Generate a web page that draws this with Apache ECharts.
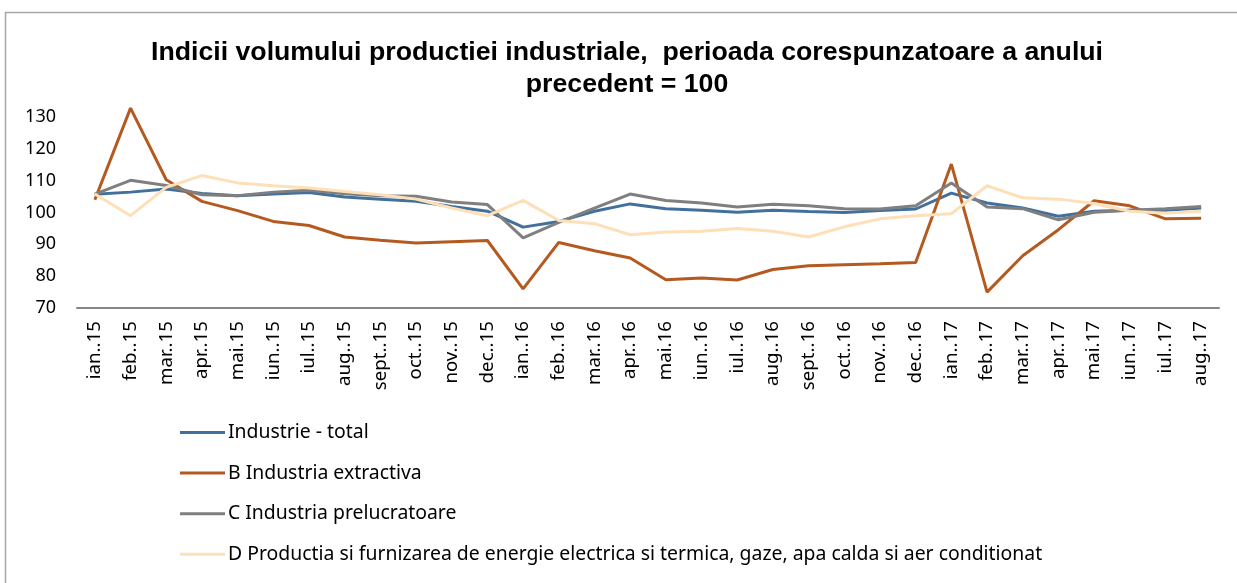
<!DOCTYPE html>
<html>
<head>
<meta charset="utf-8">
<script src="https://cdn.jsdelivr.net/npm/echarts@6/dist/echarts.min.js"></script>
<style>
html, body { margin: 0; padding: 0; background: #fff; }
#chart { width: 1237px; height: 583px; }
</style>
</head>
<body>
<div id="chart"></div>
<script>
var months = ['ian..15', 'feb..15', 'mar..15', 'apr..15', 'mai.15', 'iun..15', 'iul..15', 'aug..15', 'sept..15', 'oct..15', 'nov..15', 'dec..15',
    'ian..16', 'feb..16', 'mar..16', 'apr..16', 'mai.16', 'iun..16', 'iul..16', 'aug..16', 'sept..16', 'oct..16', 'nov..16', 'dec..16',
    'ian..17', 'feb..17', 'mar..17', 'apr..17', 'mai.17', 'iun..17', 'iul..17', 'aug..17'];

var industrieTotal = [105.7, 106.4, 107.4, 106.0, 105.3, 105.8, 106.3, 104.9, 104.2, 103.5, 101.9, 100.4,
    95.4, 97.2, 100.4, 102.7, 101.2, 100.7, 100.1, 100.7, 100.3, 100.0, 100.6, 101.1,
    106.1, 103.0, 101.4, 98.8, 100.4, 100.7, 100.7, 101.4];

var extractiva = [104.0, 132.8, 110.3, 103.5, 100.6, 97.2, 95.9, 92.3, 91.3, 90.4, 90.8, 91.2,
    76.0, 90.6, 88.0, 85.7, 78.9, 79.4, 78.8, 82.1, 83.3, 83.6, 83.9, 84.3,
    115.2, 75.0, 86.4, 94.6, 103.7, 102.1, 98.0, 98.2];

var prelucratoare = [105.8, 110.1, 108.5, 105.6, 105.3, 106.4, 107.0, 105.9, 105.3, 105.1, 103.3, 102.5,
    92.0, 96.9, 101.4, 105.8, 103.8, 103.0, 101.7, 102.6, 102.1, 101.2, 101.1, 102.1,
    109.3, 101.7, 101.2, 97.7, 100.1, 100.7, 101.2, 101.9];

var energie = [105.8, 99.0, 107.9, 111.6, 109.3, 108.4, 107.7, 106.6, 105.6, 104.2, 101.4, 99.0,
    103.8, 97.5, 96.5, 93.0, 93.9, 94.1, 95.0, 94.1, 92.3, 95.5, 98.0, 99.0,
    99.6, 108.4, 104.6, 104.2, 102.8, 100.4, 99.8, 100.4];

var seriesNames = ['Industrie - total', 'B Industria extractiva', 'C Industria prelucratoare',
    'D Productia si furnizarea de energie electrica si termica, gaze, apa calda si aer conditionat'];
var seriesColors = ['#41709c', '#b45a20', '#7f7f7f', '#fde0b8'];

var chart = echarts.init(document.getElementById('chart'));

function lineSeries(i, data) {
    return {
        name: seriesNames[i],
        type: 'line',
        data: data,
        symbol: 'none',
        clip: false, // feb 15 goes over the top of the axis
        z: 2 + i,
        lineStyle: { width: 3, color: seriesColors[i] },
        itemStyle: { color: seriesColors[i] }
    };
}

chart.setOption({
    animation: false,
    graphic: [{
        type: 'rect',
        shape: { x: 5.5, y: 12.5, width: 1260, height: 600 },
        style: { fill: 'none', stroke: '#a6a6a6', lineWidth: 1.5 },
        silent: true
    }],
    title: {
        text: 'Indicii volumului productiei industriale,  perioada corespunzatoare a anului\nprecedent = 100',
        left: 622,
        textAlign: 'center', // left is the centre of the lines here
        top: 32,
        textStyle: {
            fontFamily: 'Liberation Sans',
            fontSize: 26.7,
            fontWeight: 'bold',
            color: '#000',
            lineHeight: 31.5
        }
    },
    legend: {
        orient: 'vertical',
        left: 180,
        top: 423,
        padding: 0,
        itemWidth: 45,
        itemHeight: 3,
        itemGap: 21.6,
        icon: 'rect',
        textStyle: { fontFamily: 'Noto Sans', fontSize: 19.4, color: '#000', padding: [0, 0, 0, -2] },
        data: seriesNames
    },
    grid: {
        left: 77,
        right: 18,
        top: 117,
        bottom: 275
    },
    xAxis: {
        type: 'category',
        data: months,
        boundaryGap: true,
        axisLine: { lineStyle: { color: '#868686', width: 2 } },
        axisTick: { show: false },
        axisLabel: {
            rotate: 90,
            interval: 0,
            margin: 13,
            fontFamily: 'Noto Sans',
            fontSize: 18.7,
            color: '#000'
        }
    },
    yAxis: {
        type: 'value',
        min: 70,
        max: 130,
        interval: 10,
        splitLine: { show: false },
        axisLine: { show: false },
        axisTick: { show: false },
        axisLabel: {
            margin: 21,
            fontFamily: 'Noto Sans',
            fontSize: 18,
            color: '#000'
        }
    },
    series: [
        lineSeries(0, industrieTotal),
        lineSeries(1, extractiva),
        lineSeries(2, prelucratoare),
        lineSeries(3, energie)
    ]
});
</script>
</body>
</html>
